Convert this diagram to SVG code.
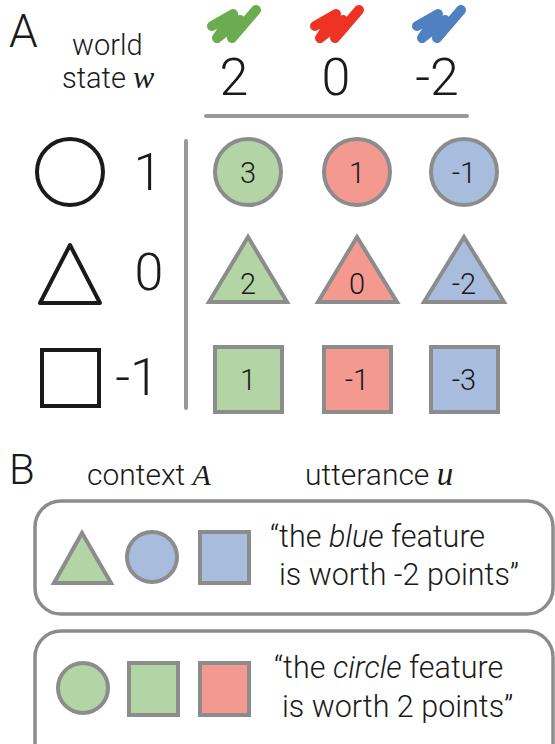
<svg xmlns="http://www.w3.org/2000/svg" width="555" height="744" viewBox="0 0 555 744">
<style>
text{font-family:Roboto,"Liberation Sans",Arial,sans-serif;font-weight:300;fill:#1a1a1a}
.big{font-size:52px;text-anchor:middle}
.lab{font-size:29px}
.labB{font-size:30px}
.cell{font-size:29px;text-anchor:middle}
.ut{font-size:30.5px}
.math{font-family:"Liberation Serif","Times New Roman",serif;font-style:italic}
.g{fill:#b3d4a4}.r{fill:#f4998f}.b{fill:#a8bddd}
.sh{stroke:#8c8c8c;stroke-width:4;stroke-linejoin:miter}
.ol{fill:none;stroke:#1a1a1a;stroke-width:4}
.rule{stroke:#999;stroke-width:4;stroke-linecap:round;fill:none}
.box{fill:none;stroke:#8c8c8c;stroke-width:3.5}
.scrib{fill:none;stroke-width:10;stroke-linecap:round;stroke-linejoin:round}
</style>
<g id="panelA">
<text x="9" y="47" style="font-size:46px">A</text>
<text x="72" y="55" class="lab">world</text>
<text x="62" y="88" class="lab">state <tspan class="math" style="font-size:32px">w</tspan></text>
<g id="scribbles">
<path class="scrib" stroke="#6aac4f" d="M212,26 L233,14 L217,38 L240,20 L232,38 L256,10"/>
<path class="scrib" stroke="#ee3224" d="M315,26 L336,14 L320,38 L343,20 L335,38 L359,10"/>
<path class="scrib" stroke="#4f81c0" d="M417,26 L438,14 L422,38 L445,20 L437,38 L461,10"/>
</g>
<text x="234" y="95" class="big">2</text>
<text x="336" y="95" class="big">0</text>
<text x="437" y="95" class="big">-2</text>
<line class="rule" x1="206" y1="116" x2="467" y2="116"/>
<line class="rule" x1="186" y1="141" x2="186" y2="408"/>
<g id="rowlabels">
<circle class="ol" cx="70" cy="172" r="33"/>
<text x="148" y="190" class="big">1</text>
<polygon class="ol" points="70,245 40,303 100,303" stroke-linejoin="round"/>
<text x="149" y="290" class="big">0</text>
<rect class="ol" x="42" y="350" width="57" height="56"/>
<text x="137" y="395" class="big">-1</text>
</g>
<g id="grid">
<g id="c1"><circle class="sh g" cx="248" cy="172" r="33"/><text class="cell" x="248" y="183">3</text></g>
<g id="c2"><circle class="sh r" cx="357" cy="172" r="33"/><text class="cell" x="357" y="183">1</text></g>
<g id="c3"><circle class="sh b" cx="464" cy="172" r="33"/><text class="cell" x="464" y="183">-1</text></g>
<g id="t1"><polygon class="sh g" points="248,237 209,302 287,302"/><text class="cell" x="248" y="294">2</text></g>
<g id="t2"><polygon class="sh r" points="357,237 318,302 397,302"/><text class="cell" x="357" y="294">0</text></g>
<g id="t3"><polygon class="sh b" points="464,237 424,302 504,302"/><text class="cell" x="464" y="294">-2</text></g>
<g id="s1"><rect class="sh g" x="215" y="347" width="67" height="65"/><text class="cell" x="248" y="390">1</text></g>
<g id="s2"><rect class="sh r" x="324" y="347" width="67" height="65"/><text class="cell" x="357" y="390">-1</text></g>
<g id="s3"><rect class="sh b" x="431" y="347" width="67" height="65"/><text class="cell" x="464" y="390">-3</text></g>
</g>
</g>
<g id="panelB">
<text x="9" y="484" style="font-size:42px">B</text>
<text x="87" y="485" class="labB">context <tspan class="math" style="font-size:30px">A</tspan></text>
<text x="305" y="485" class="labB">utterance <tspan class="math" style="font-size:33px">u</tspan></text>
<g id="box1">
<rect class="box" x="35" y="501" width="518" height="113" rx="26"/>
<polygon class="sh g" points="82,533 54,583 111,583"/>
<circle class="sh b" cx="152" cy="557" r="25"/>
<rect class="sh b" x="200" y="532" width="49" height="51"/>
<text x="270" y="547" class="ut">“the <tspan font-style="italic">blue</tspan> feature</text>
<text x="279" y="585" class="ut">is worth -2 points”</text>
</g>
<g id="box2">
<rect class="box" x="35" y="631" width="518" height="140" rx="26"/>
<circle class="sh g" cx="83" cy="688" r="25"/>
<rect class="sh g" x="129" y="663" width="49" height="52"/>
<rect class="sh r" x="200" y="663" width="49" height="52"/>
<text x="274" y="678" class="ut">“the <tspan font-style="italic">circle</tspan> feature</text>
<text x="282" y="717" class="ut">is worth 2 points”</text>
</g>
</g>
</svg>
